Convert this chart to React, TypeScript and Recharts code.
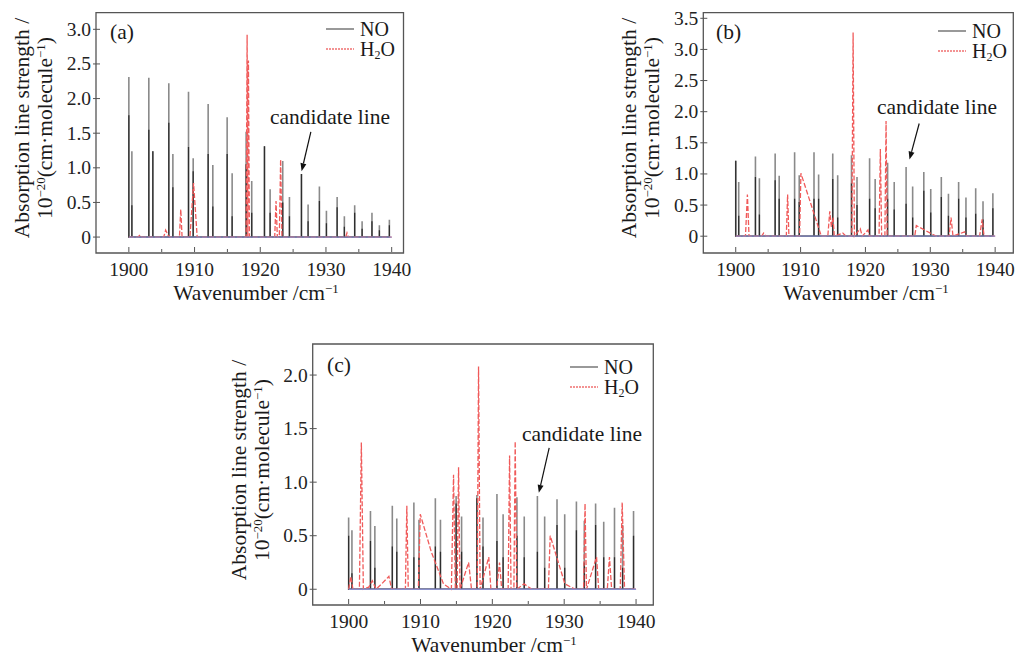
import React from 'react';
import { LineChart, Line, XAxis, YAxis, ReferenceArea, ReferenceLine } from 'recharts';

// NO line positions (cm^-1), shared by all three panels
const noPos = [
  1900.0, 1900.46, 1903.04, 1903.65, 1906.08, 1906.7, 1909.08, 1909.79, 1912.07, 1912.78,
  1914.96, 1915.72, 1917.85, 1918.7, 1920.64, 1921.5, 1923.42, 1924.44, 1926.27, 1927.28,
  1929.0, 1930.07, 1931.7, 1932.8, 1934.37, 1935.5, 1937.0, 1938.13, 1939.65,
];

// panel (a)
const noPeakA = [2.31, 1.24, 2.3, 1.24, 2.22, 1.2, 2.1, 1.14, 1.92, 1.04, 1.73, 0.92, 1.52, 0.81, 1.31, 0.69, 1.1, 0.58, 0.91, 0.47, 0.73, 0.38, 0.58, 0.3, 0.46, 0.23, 0.35, 0.17, 0.25];
const noCoreA = [1.76, 0.46, 1.55, 1.24, 1.65, 0.72, 1.3, 0.95, 1.2, 0.44, 1.2, 0.3, 1.05, 0.35, 1.31, 0.35, 0.5, 0.3, 0.91, 0.23, 0.52, 0.2, 0.43, 0.15, 0.35, 0.12, 0.23, 0.1, 0.17];
const h2oA: [number, number][] = [
  [1900, 0], [1901.4, 0], [1901.7, 0.03], [1902.0, 0], [1905.3, 0], [1905.6, 0.1], [1906.0, 0.02], [1906.3, 0],
  [1907.7, 0], [1907.9, 0.4], [1908.1, 0], [1909.3, 0], [1909.85, 0.78], [1910.4, 0], [1917.85, 0], [1918.0, 2.92],
  [1918.1, 0], [1918.2, 2.55], [1918.35, 0], [1922.2, 0], [1922.4, 0.52], [1922.6, 0], [1922.9, 0], [1923.1, 1.12],
  [1923.3, 0], [1933.0, 0], [1933.2, 0.06], [1933.4, 0], [1940, 0],
];

// panel (b)
const noPeakB = [1.21, 0.87, 1.28, 0.93, 1.33, 0.97, 1.35, 0.98, 1.35, 0.99, 1.33, 0.98, 1.3, 0.95, 1.25, 0.92, 1.18, 0.87, 1.11, 0.8, 1.03, 0.76, 0.95, 0.68, 0.87, 0.62, 0.77, 0.56, 0.69];
const noCoreB = [1.21, 0.33, 0.95, 0.35, 0.9, 0.6, 0.6, 0.55, 0.6, 0.6, 0.92, 0.3, 0.85, 0.5, 0.6, 0.45, 0.6, 0.43, 0.52, 0.3, 0.73, 0.38, 0.63, 0.33, 0.6, 0.3, 0.36, 0.27, 0.45];
const h2oB: [number, number][] = [
  [1900, 0], [1901.5, 0], [1901.8, 0.67], [1902.05, 0], [1904.0, 0], [1904.3, 0.05], [1904.7, 0], [1907.8, 0],
  [1908.0, 0.67], [1908.2, 0], [1909.85, 0], [1910.05, 1.01], [1913.2, 0], [1914.2, 0], [1914.5, 0.4], [1914.75, 0.15],
  [1915.0, 0.3], [1915.2, 0], [1916.5, 0.05], [1917.0, 0], [1917.9, 0], [1918.1, 3.27], [1918.3, 0], [1919.2, 0.12],
  [1919.5, 0], [1920.4, 0.1], [1920.6, 0], [1922.1, 0], [1922.3, 1.4], [1922.5, 0], [1923.0, 0], [1923.18, 1.85],
  [1923.35, 0], [1927.6, 0], [1927.85, 0.17], [1930.9, 0], [1932.9, 0], [1933.2, 0.3], [1933.5, 0], [1935.3, 0.07],
  [1935.6, 0], [1937.6, 0], [1938.0, 0.27], [1938.3, 0], [1940, 0],
];

// panel (c)
const noPeakC = [0.67, 0.55, 0.73, 0.59, 0.78, 0.66, 0.81, 0.65, 0.85, 0.65, 0.87, 0.68, 0.88, 0.67, 0.89, 0.7, 0.86, 0.68, 0.87, 0.68, 0.84, 0.7, 0.82, 0.64, 0.8, 0.63, 0.76, 0.6, 0.73];
const noCoreC = [0.5, 0.15, 0.45, 0.2, 0.4, 0.35, 0.3, 0.3, 0.4, 0.35, 0.8, 0.35, 0.85, 0.4, 0.45, 0.3, 0.5, 0.3, 0.35, 0.2, 0.6, 0.2, 0.55, 0.25, 0.6, 0.3, 0.3, 0.2, 0.5];
const h2oC: [number, number][] = [
  [1900, 0], [1900.3, 0.12], [1900.6, 0], [1901.5, 0], [1901.77, 1.37], [1902.05, 0], [1902.8, 0.02], [1903.3, 0.08],
  [1903.8, 0], [1904.6, 0.05], [1905.6, 0.12], [1906.0, 0], [1907.9, 0], [1908.1, 0.78], [1908.3, 0], [1909.7, 0],
  [1909.97, 0.7], [1911.5, 0.35], [1913.2, 0.05], [1914.3, 0], [1914.6, 1.07], [1914.85, 0], [1915.1, 0], [1915.3, 1.14],
  [1915.5, 0], [1916.7, 0.25], [1917.1, 0], [1917.9, 0], [1918.08, 2.08], [1918.3, 0], [1919.5, 0.3], [1919.8, 0],
  [1920.6, 0], [1921.0, 0.25], [1921.3, 0], [1922.2, 0], [1922.4, 1.25], [1922.6, 0], [1923.0, 0], [1923.18, 1.38],
  [1923.4, 0], [1924.4, 0.05], [1925.5, 0], [1927.8, 0], [1928.05, 0.5], [1930.1, 0.05], [1931.5, 0], [1932.7, 0],
  [1932.9, 0.8], [1933.1, 0], [1934.5, 0.3], [1934.8, 0], [1936.0, 0], [1936.3, 0.3], [1936.6, 0], [1937.8, 0],
  [1938.07, 0.81], [1938.4, 0], [1940, 0],
];

const baselineX = [1900, 1940];
const xTicks = [1900, 1905, 1910, 1915, 1920, 1925, 1930, 1935, 1940];
const yTicksA = [0, 0.5, 1.0, 1.5, 2.0, 2.5, 3.0];
const yTicksB = [0, 0.5, 1.0, 1.5, 2.0, 2.5, 3.0, 3.5];
const yTicksC = [0, 0.5, 1.0, 1.5, 2.0];

const FONT = '"Liberation Serif", "Times New Roman", serif';
const AXIS = '#555';

const spikes = (pos: number[], h: number[]) =>
  pos.flatMap((p, i) => [{ x: p, y: 0 }, { x: p, y: h[i] }, { x: p, y: 0 }]);
const poly = (pts: [number, number][]) => pts.map(([x, y]) => ({ x, y }));

// x axis has height 1, so the tick y sits 1px under the plot's bottom edge
const XTick = (props: any) => {
  const { x, y, payload } = props;
  const v = payload.value;
  const major = v % 10 === 0;
  const ay = y - 1;
  return (
    <g>
      <line x1={x} x2={x} y1={ay} y2={ay - (major ? 5 : 3)} stroke={AXIS} />
      {major && (
        <text x={x} y={ay + 17} textAnchor="middle" dominantBaseline="central" fontFamily={FONT} fontSize={19.5} fill="#222">
          {v}
        </text>
      )}
    </g>
  );
};

const YTick = (props: any) => {
  const { x, y, payload } = props;
  const v = payload.value;
  return (
    <g>
      <line x1={x - 3} x2={x + 4} y1={y} y2={y} stroke={AXIS} />
      <text x={x - 5} y={y} textAnchor="end" dominantBaseline="central" fontFamily={FONT} fontSize={19.5} fill="#222">
        {v === 0 ? '0' : v.toFixed(1)}
      </text>
    </g>
  );
};

const Arrow = (p: any) => {
  const { x1, y1, x2, y2 } = p;
  const a = Math.atan2(y2 - y1, x2 - x1);
  const L = 8, W = 3;
  const bx = x2 - L * Math.cos(a), by = y2 - L * Math.sin(a);
  const pts = `${x2},${y2} ${bx + W * Math.sin(a)},${by - W * Math.cos(a)} ${bx - W * Math.sin(a)},${by + W * Math.cos(a)}`;
  return (
    <g>
      <line x1={x1} y1={y1} x2={bx} y2={by} stroke="#111" strokeWidth={1.2} />
      <polygon points={pts} fill="#111" />
    </g>
  );
};

interface PanelProps {
  left: number; top: number; width: number; height: number;
  margin: { top: number; right: number; bottom: number; left: number };
  xDomain: [number, number]; yDomain: [number, number]; yTicks: number[];
  peak: number[]; core: number[]; h2o: [number, number][];
  arrow: [{ x: number; y: number }, { x: number; y: number }];
}

const Panel: React.FC<PanelProps> = ({ left, top, width, height, margin, xDomain, yDomain, yTicks, peak, core, h2o, arrow }) => (
  <div style={{ position: 'absolute', left, top }}>
    <LineChart width={width} height={height} margin={{ ...margin, bottom: margin.bottom - 1, left: margin.left - 1 }}>
      <XAxis type="number" dataKey="x" domain={xDomain} allowDataOverflow ticks={xTicks} height={1}
        tickSize={0} tickMargin={0} axisLine={false} tickLine={false} tick={<XTick />} interval={0} />
      <YAxis type="number" dataKey="y" domain={yDomain} allowDataOverflow ticks={yTicks} width={1}
        tickSize={0} tickMargin={0} axisLine={false} tickLine={false} tick={<YTick />} interval={0} />
      <ReferenceArea x1={xDomain[0]} x2={xDomain[1]} y1={yDomain[0]} y2={yDomain[1]} fill="none" stroke={AXIS} strokeWidth={1.3} />
      <Line data={spikes(noPos, peak)} dataKey="y" stroke="#8a8a8a" strokeWidth={1.6} dot={false} activeDot={false} isAnimationActive={false} />
      <Line data={spikes(noPos, core)} dataKey="y" stroke="#2e2e2e" strokeWidth={1.3} dot={false} activeDot={false} isAnimationActive={false} />
      <Line data={poly(h2o)} dataKey="y" stroke="#f05a5a" strokeWidth={1.3} strokeDasharray="5 2" dot={false} activeDot={false} isAnimationActive={false} />
      <Line data={baselineX.map((x) => ({ x, y: 0 }))} dataKey="y" stroke="#8a90cc" strokeWidth={1.3} dot={false} activeDot={false} isAnimationActive={false} />
      <ReferenceLine segment={arrow} shape={<Arrow />} ifOverflow="visible" />
    </LineChart>
  </div>
);

const txt: React.CSSProperties = { position: 'absolute', fontFamily: FONT, fontSize: 20, color: '#1a1a1a', whiteSpace: 'nowrap', lineHeight: 1 };
const big: React.CSSProperties = { ...txt, fontSize: 21.5 };
const sup: React.CSSProperties = { fontSize: '0.6em', verticalAlign: '0.55em' };
const sub: React.CSSProperties = { fontSize: '0.6em', verticalAlign: '-0.25em' };

const Legend = ({ x, y }: { x: number; y: number }) => (
  <>
    <svg style={{ position: 'absolute', left: x, top: y - 2 }} width={30} height={24}>
      <line x1={0} x2={28} y1={2} y2={2} stroke="#777" strokeWidth={1.5} />
      <line x1={0} x2={28} y1={22} y2={22} stroke="#f07070" strokeWidth={1.5} strokeDasharray="2 1" />
    </svg>
    <div style={{ ...txt, left: x + 34, top: y - 10 }}>NO</div>
    <div style={{ ...txt, left: x + 34, top: y + 10 }}>H<span style={sub}>2</span>O</div>
  </>
);

const YTitle = ({ cx, cy }: { cx: number; cy: number }) => (
  <div style={{ ...big, left: cx - 140, top: cy - 19, width: 280, height: 38, lineHeight: '19px', textAlign: 'center', transform: 'rotate(-90deg)' }}>
    Absorption line strength /<br />10<span style={sup}>−20</span>(cm·molecule<span style={sup}>−1</span>)
  </div>
);

const XTitle = ({ cx, cy }: { cx: number; cy: number }) => (
  <div style={{ ...big, left: cx - 100, top: cy - 9, width: 200, textAlign: 'center' }}>
    Wavenumber /cm<span style={sup}>−1</span>
  </div>
);

export default function App() {
  return (
    <div style={{ position: 'absolute', left: 0, top: 0, width: 1016, height: 657, background: '#fff', overflow: 'hidden' }}>
      <Panel left={0} top={0} width={430} height={310} margin={{ top: 12.7, right: 26.5, bottom: 57, left: 96 }}
        xDomain={[1895, 1941.8]} yDomain={[-0.23, 3.24]} yTicks={yTicksA} peak={noPeakA} core={noCoreA} h2o={h2oA}
        arrow={[{ x: 1927.7, y: 1.52 }, { x: 1926.29, y: 0.95 }]} />
      <Panel left={600} top={0} width={416} height={310} margin={{ top: 12.7, right: 2.7, bottom: 57, left: 103.3 }}
        xDomain={[1895, 1942.8]} yDomain={[-0.27, 3.59]} yTicks={yTicksB} peak={noPeakB} core={noCoreB} h2o={h2oB}
        arrow={[{ x: 1928.29, y: 1.81 }, { x: 1926.79, y: 1.23 }]} />
      <Panel left={210} top={320} width={460} height={337} margin={{ top: 24, right: 16.7, bottom: 52, left: 102.7 }}
        xDomain={[1895, 1942.4]} yDomain={[-0.147, 2.29]} yTicks={yTicksC} peak={noPeakC} core={noCoreC} h2o={h2oC}
        arrow={[{ x: 1927.91, y: 1.32 }, { x: 1926.47, y: 0.9 }]} />

      <div style={{ ...big, left: 110, top: 22 }}>(a)</div>
      <div style={{ ...big, left: 716, top: 22 }}>(b)</div>
      <div style={{ ...big, left: 327, top: 355 }}>(c)</div>

      <Legend x={326} y={29} />
      <Legend x={938} y={31} />
      <Legend x={570} y={367} />

      <div style={{ ...big, left: 270, top: 107 }}>candidate line</div>
      <div style={{ ...big, left: 877, top: 97 }}>candidate line</div>
      <div style={{ ...big, left: 522, top: 424 }}>candidate line</div>

      <YTitle cx={31.5} cy={128} />
      <YTitle cx={639} cy={128} />
      <YTitle cx={248.5} cy={470} />

      <XTitle cx={256} cy={292} />
      <XTitle cx={866} cy={292} />
      <XTitle cx={494} cy={644} />
    </div>
  );
}
